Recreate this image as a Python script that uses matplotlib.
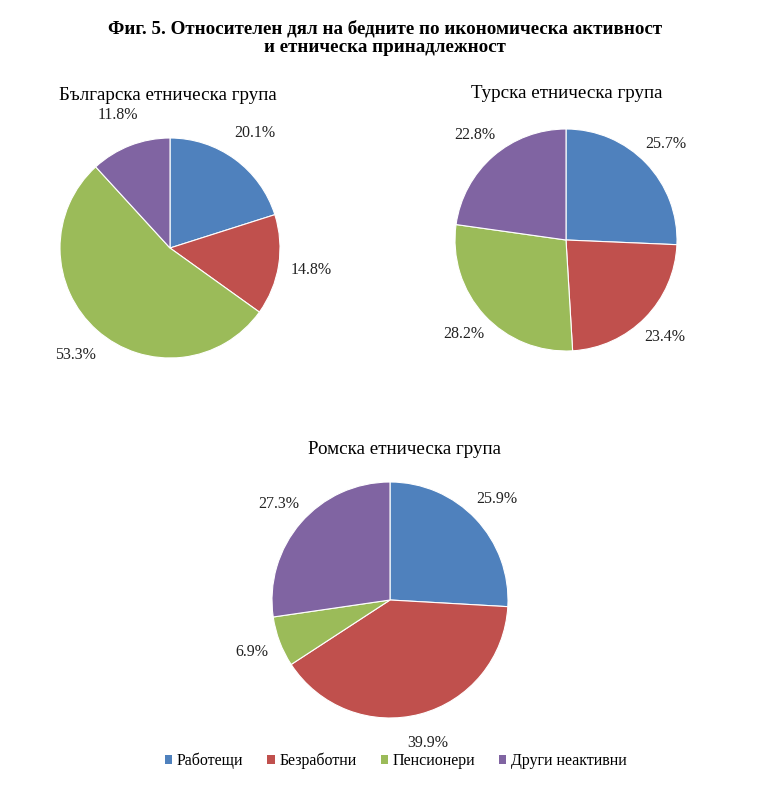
import matplotlib.pyplot as plt
from matplotlib.patches import Patch

plt.rcParams['font.family'] = ['Liberation Serif', 'DejaVu Serif']

categories = ['Работещи', 'Безработни', 'Пенсионери', 'Други неактивни']
colors = ['#4F81BD', '#C0504D', '#9BBB59', '#8064A2']

bg_vals = [20.1, 14.8, 53.3, 11.8]
tr_vals = [25.7, 23.4, 28.2, 22.8]
roma_vals = [25.9, 39.9, 6.9, 27.3]

titles = ['Българска етническа група', 'Турска етническа група', 'Ромска етническа група']

W, H = 768, 787
fig = plt.figure(figsize=(W / 100, H / 100), dpi=100)


def pie_axes(cx, cy, r):
    # position in pixels -> figure fraction
    return fig.add_axes([(cx - r) / W, 1 - (cy + r) / H, 2 * r / W, 2 * r / H])


def draw(ax, vals, dist=1.27):
    ax.pie(vals, colors=colors, startangle=90, counterclock=False,
           autopct='%.1f%%', pctdistance=dist, radius=1,
           wedgeprops=dict(linewidth=0.8, edgecolor='white'),
           textprops=dict(fontsize=11.5, color='#222222'))
    ax.set_xlim(-1, 1)
    ax.set_ylim(-1, 1)
    ax.set_aspect('equal')
    for t in ax.texts:
        t.set_clip_on(False)


ax1 = pie_axes(170, 248, 110)
draw(ax1, bg_vals, 1.3)
ax2 = pie_axes(566, 240, 111)
draw(ax2, tr_vals, 1.25)
ax3 = pie_axes(390, 600, 118)
draw(ax3, roma_vals, 1.25)

fig.text(385 / W, 1 - 38 / H, 'Фиг. 5. Относителен дял на бедните по икономическа активност\nи етническа принадлежност',
         ha='center', va='center', fontsize=13.7, fontweight='bold', linespacing=1.1)
fig.text(168 / W, 1 - 96 / H, titles[0], ha='center', va='center', fontsize=13.7)
fig.text(567 / W, 1 - 93 / H, titles[1], ha='center', va='center', fontsize=13.7)
fig.text(405 / W, 1 - 450 / H, titles[2], ha='center', va='center', fontsize=13.7)

handles = [Patch(facecolor=c, edgecolor='none', label=l) for c, l in zip(colors, categories)]
fig.legend(handles=handles, loc='center', bbox_to_anchor=(396 / W, 1 - 761 / H), ncol=4,
           frameon=False, fontsize=11.5, handlelength=0.45, handleheight=0.45,
           handletextpad=0.3, columnspacing=1.5)

fig.savefig('out.png', dpi=100)
